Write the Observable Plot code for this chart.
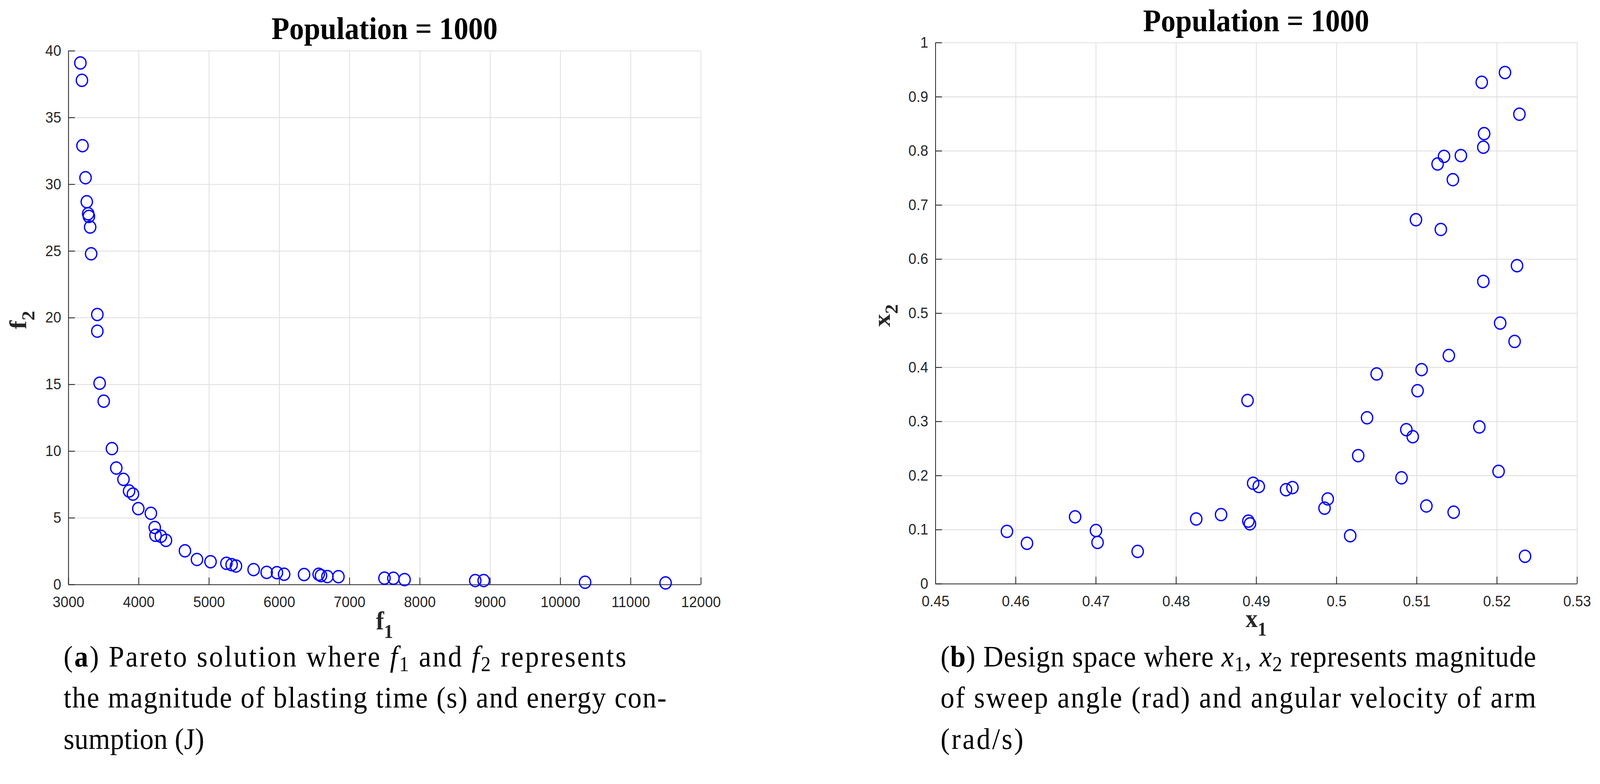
<!DOCTYPE html>
<html><head><meta charset="utf-8">
<script src="https://cdn.jsdelivr.net/npm/d3@7"></script>
<script src="https://cdn.jsdelivr.net/npm/@observablehq/plot@0.6"></script>
<style>
html,body{margin:0;padding:0;background:#fff;overflow:hidden;width:100%;height:100%;}
#wrap{position:fixed;left:0;top:0;right:0;bottom:0;overflow:hidden;background:#fff;}
#page{position:absolute;left:0;top:0;width:4379px;height:2008px;background:#fff;overflow:hidden;transform-origin:0 0;}
#page > svg{position:absolute;}
</style></head><body><div id="wrap"><div id="page"></div></div>
<script>
// ---- data ----
const f1Values = [3169,3191,3199,3242,3260,3280,3290,3308,3322,3410,3410,3443,3501,3618,3680,3782,3862,3917,3993,4172,4227,4238,4314,4387,4657,4828,5021,5247,5321,5383,5634,5820,5966,6068,6352,6560,6593,6684,6841,7496,7623,7782,8788,8908,10351,11496];
const f2Values = [39.1,37.8,32.9,30.5,28.7,27.8,27.6,26.8,24.8,20.25,19.0,15.1,13.75,10.2,8.74,7.89,7.02,6.79,5.70,5.35,4.29,3.70,3.63,3.32,2.54,1.89,1.72,1.60,1.50,1.40,1.13,0.92,0.90,0.78,0.76,0.78,0.68,0.61,0.60,0.49,0.48,0.38,0.31,0.31,0.18,0.13];
const x1Values = [0.5210,0.5181,0.5228,0.5184,0.5183,0.5134,0.5155,0.5126,0.5145,0.5099,0.5130,0.5225,0.5183,0.5204,0.5222,0.5140,0.5106,0.5050,0.5101,0.4889,0.5038,0.5087,0.5178,0.5095,0.5027,0.5081,0.5202,0.4896,0.4903,0.4937,0.4945,0.4989,0.4985,0.5112,0.5146,0.4856,0.4890,0.4892,0.5017,0.5235,0.4589,0.4614,0.4674,0.4700,0.4702,0.4752,0.4825];
const x2Values = [0.945,0.927,0.868,0.832,0.807,0.790,0.7915,0.776,0.747,0.673,0.655,0.588,0.559,0.482,0.448,0.422,0.396,0.388,0.357,0.339,0.307,0.285,0.290,0.272,0.237,0.196,0.208,0.186,0.180,0.174,0.178,0.157,0.140,0.144,0.1325,0.128,0.116,0.111,0.089,0.051,0.097,0.075,0.124,0.0986,0.0766,0.060,0.120];
const f1Ticks = [3000,4000,5000,6000,7000,8000,9000,10000,11000,12000];
const f2Ticks = [0,5,10,15,20,25,30,35,40];
const x1Ticks = [0.45,0.46,0.47,0.48,0.49,0.5,0.51,0.52,0.53];
const x2Ticks = [0,0.1,0.2,0.3,0.4,0.5,0.6,0.7,0.8,0.9,1];
const titleText = "Population = 1000";
const labelA = {x: ["f","1"], y: ["f","2"]};
const labelB = {x: ["x","1"], y: ["x","2"]};
// caption segments: [text, kind]  kind: n normal, b bold, i italic, s subscript
const captionA = [
  [["(","n"],["a","b"],[") Pareto solution where ","n"],["f","i"],["1","s"],[" and ","n"],["f","i"],["2","s"],[" represents","n"]],
  [["the magnitude of blasting time (s) and energy con-","n"]],
  [["sumption (J)","n"]]
];
const captionB = [
  [["(","n"],["b","b"],[") Design space where ","n"],["x","i"],["1","s"],[", ","n"],["x","i"],["2","s"],[" represents magnitude","n"]],
  [["of sweep angle (rad) and angular velocity of arm","n"]],
  [["(rad/s)","n"]]
];

const page = document.getElementById("page");
const AX = "#262626", GRID = "#dfdfdf", BLUE = "#0000ff";

function panel(o) {
  const data = o.xs.map((x, i) => ({x, y: o.ys[i]}));
  const W = o.mL + o.pw + o.mR, H = o.mT + o.ph + o.mB;
  const svgNode = Plot.plot({
    width: W, height: H,
    marginLeft: o.mL, marginRight: o.mR, marginTop: o.mT, marginBottom: o.mB,
    x: {domain: o.xDomain},
    y: {domain: o.yDomain},
    style: {fontFamily: "'Liberation Sans', Arial, sans-serif", fontSize: "39px", color: AX, background: "white", overflow: "visible", maxWidth: "none"},
    marks: [
      Plot.gridX(o.xTicks, {stroke: GRID, strokeOpacity: 1, strokeWidth: 2.2}),
      Plot.gridY(o.yTicks, {stroke: GRID, strokeOpacity: 1, strokeWidth: 2.2}),
      Plot.ruleX([o.xDomain[0]], {stroke: AX, strokeWidth: 2.2}),
      Plot.ruleY([o.yDomain[0]], {stroke: AX, strokeWidth: 2.2}),
      Plot.tickX(o.xTicks, {x: d => d, insetTop: o.ph - 18, stroke: AX, strokeWidth: 2.2}),
      Plot.tickY(o.yTicks, {y: d => d, insetRight: o.pw - 18, stroke: AX, strokeWidth: 2.2}),
      Plot.axisX(o.xTicks, {tickSize: 0, tickPadding: 30, fontSize: 39, tickFormat: o.xFormat, label: null}),
      Plot.axisY(o.yTicks, {tickSize: 0, tickPadding: 20, fontSize: 39, tickFormat: o.yFormat, label: null}),
      Plot.dot(data, {x: "x", y: "y", r: 15.5, stroke: BLUE, strokeWidth: 3.5, fill: "none"})
    ]
  });
  svgNode.style.left = o.left + "px";
  svgNode.style.top = "0px";
  const svg = d3.select(svgNode);
  const serif = "'Liberation Serif', 'Times New Roman', serif";
  svg.append("text")
    .attr("x", o.mL + o.pw / 2).attr("y", o.titleY)
    .attr("text-anchor", "middle").attr("font-family", serif)
    .attr("font-weight", "bold").attr("font-size", 80).attr("fill", "#000")
    .text(titleText);
  const addLabel = (parts, tx, ty, rot) => {
    const t = svg.append("text")
      .attr("transform", `translate(${tx},${ty})` + (rot ? " rotate(-90)" : ""))
      .attr("text-anchor", "middle").attr("font-family", serif)
      .attr("font-weight", "bold").attr("fill", AX);
    t.append("tspan").attr("font-size", 66).text(parts[0]);
    t.append("tspan").attr("font-size", 50).attr("dy", 22).text(parts[1]);
  };
  addLabel(o.label.x, o.mL + o.pw / 2, o.xLabelY, false);
  addLabel(o.label.y, o.yLabelX, o.mT + o.ph / 2 + 6, true);
  page.appendChild(svgNode);
}

panel({xs: f1Values, ys: f2Values, xDomain: [3000, 12000], yDomain: [0, 40],
  xTicks: f1Ticks, yTicks: f2Ticks, xFormat: d3.format("d"), yFormat: d => String(d),
  left: 0, mL: 187, mT: 130, pw: 1731, ph: 1367, mR: 60, mB: 170,
  titleY: 100, xLabelY: 1612, yLabelX: 72, label: labelA});

panel({xs: x1Values, ys: x2Values, xDomain: [0.45, 0.53], yDomain: [0, 1],
  xTicks: x1Ticks, yTicks: x2Ticks, xFormat: d => String(d), yFormat: d => String(d),
  left: 2360, mL: 200, mT: 109, pw: 1756, ph: 1386, mR: 60, mB: 170,
  titleY: 80, xLabelY: 1606, yLabelX: 75, label: labelB});

// captions (line widths)
const cap = d3.select(page).append("svg")
  .attr("width", 4379).attr("height", 2008)
  .style("left", "0px").style("top", "0px");
function caption(lines, x0, widths) {
  const baselines = [1707, 1812, 1918];
  lines.forEach((segs, li) => {
    const t = cap.append("text").attr("x", x0).attr("y", baselines[li])
      .attr("font-family", "'Liberation Serif', 'Times New Roman', serif")
      .attr("font-size", 76).attr("fill", "#000")
      .attr("textLength", widths[li]).attr("lengthAdjust", "spacing")
      .style("white-space", "pre");
    let shifted = false;
    segs.forEach(([txt, kind]) => {
      const sp = t.append("tspan").text(txt);
      if (kind === "b") sp.attr("font-weight", "bold");
      if (kind === "i") sp.attr("font-style", "italic");
      if (kind === "s") { sp.attr("font-size", 54).attr("dy", 12); shifted = true; }
      else if (shifted) { sp.attr("dy", -12); shifted = false; }
    });
  });
}
caption(captionA, 174, [1540, 1650, 385]);
caption(captionB, 2574, [1630, 1630, 227]);

// fit the 4379x2008 layout into the actual viewport
function fit() {
  const w = document.documentElement.clientWidth || window.innerWidth;
  const h = document.documentElement.clientHeight || window.innerHeight;
  if (w > 0 && h > 0) page.style.transform = `scale(${w / 4379}, ${h / 2008})`;
}
fit();
window.addEventListener("resize", fit);
</script></body></html>
